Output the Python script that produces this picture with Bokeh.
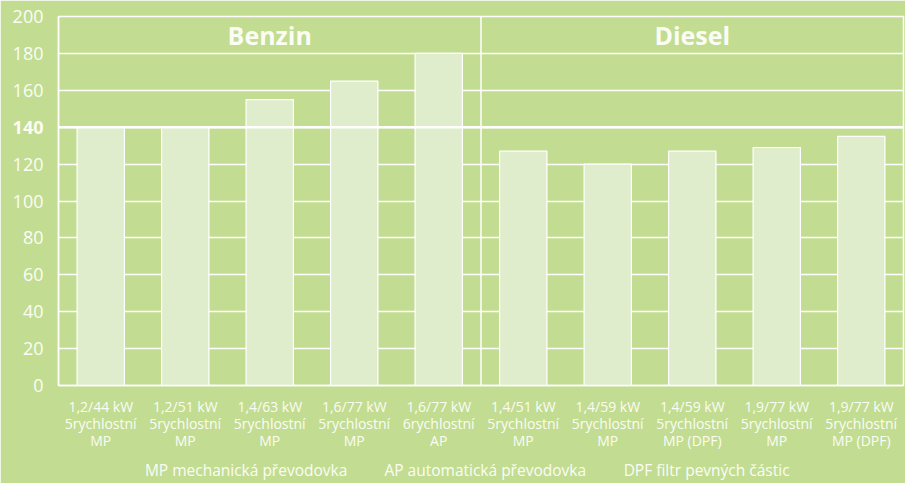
from bokeh.plotting import figure
from bokeh.models import Range1d, FixedTicker, Span, Label, LinearAxis
from bokeh.embed import file_html
from bokeh.resources import INLINE

categories = [
    "1,2/44 kW\n5rychlostní\nMP",
    "1,2/51 kW\n5rychlostní\nMP",
    "1,4/63 kW\n5rychlostní\nMP",
    "1,6/77 kW\n5rychlostní\nMP",
    "1,6/77 kW\n6rychlostní\nAP",
    "1,4/51 kW\n5rychlostní\nMP",
    "1,4/59 kW\n5rychlostní\nMP",
    "1,4/59 kW\n5rychlostní\nMP (DPF)",
    "1,9/77 kW\n5rychlostní\nMP",
    "1,9/77 kW\n5rychlostní\nMP (DPF)",
]
values = [140, 140, 155, 165, 180, 127, 120, 127, 129, 135]
group_names = ["Benzin", "Diesel"]
y_ticks = [0, 20, 40, 60, 80, 100, 120, 140, 160, 180, 200]
highlight = 140
footnotes = ["MP mechanická převodovka", "AP automatická převodovka", "DPF filtr pevných částic"]
footnote_pos = [2.72, 5.55, 8.17]

BG = "#c2dc92"
BAR = "#e0edcd"
TXT = "#fbfdf5"
FONT = "Open Sans"

xs = list(range(1, len(values) + 1))

p = figure(width=905, height=483, output_backend="svg", toolbar_location=None,
           x_range=Range1d(0.5, len(values) + 0.5), y_range=Range1d(0, 200),
           min_border_left=58, min_border_right=2, min_border_top=16, min_border_bottom=98)
p.background_fill_color = BG
p.border_fill_color = BG
p.outline_line_color = "white"
p.outline_line_width = 1.5

p.vbar(x=xs, top=values, width=0.56, fill_color=BAR, line_color="white", line_width=1.2)

# grid
p.xgrid.visible = False
p.ygrid.ticker = FixedTicker(ticks=y_ticks)
p.ygrid.grid_line_color = "white"
p.ygrid.grid_line_width = 1.5
p.ygrid.grid_line_alpha = 1.0

# inner y axis: only the highlighted value, bold
ya = p.yaxis[0]
ya.ticker = FixedTicker(ticks=[highlight])
ya.major_tick_line_color = None
ya.minor_tick_line_color = None
ya.axis_line_color = "white"
ya.axis_line_width = 1.5
ya.major_label_standoff = 9
ya.major_label_text_font = FONT
ya.major_label_text_font_style = "bold"
ya.major_label_text_font_size = "18px"
ya.major_label_text_color = TXT

# outer y axis: other values, shifted onto the same column
ya2 = LinearAxis(ticker=FixedTicker(ticks=[t for t in y_ticks if t != highlight]))
ya2.major_tick_line_color = None
ya2.minor_tick_line_color = None
ya2.axis_line_color = None
ya2.major_label_standoff = -40
ya2.major_label_text_font = FONT
ya2.major_label_text_font_size = "18px"
ya2.major_label_text_color = TXT
p.add_layout(ya2, "left")

# x axis
p.xaxis.ticker = FixedTicker(ticks=xs)
p.xaxis.major_label_overrides = {x: c for x, c in zip(xs, categories)}
p.xaxis.major_tick_line_color = None
p.xaxis.minor_tick_line_color = None
p.xaxis.axis_line_color = "white"
p.xaxis.axis_line_width = 1.5
p.xaxis.major_label_standoff = 5
p.xaxis.major_label_text_font = FONT
p.xaxis.major_label_text_font_size = "14px"
p.xaxis.major_label_text_color = TXT
p.xaxis.major_label_text_line_height = 0.9

# footnote axis below
xa2 = LinearAxis(ticker=FixedTicker(ticks=footnote_pos),
                 major_label_overrides={x: t for x, t in zip(footnote_pos, footnotes)})
xa2.major_tick_line_color = None
xa2.minor_tick_line_color = None
xa2.axis_line_color = None
xa2.major_label_standoff = 0
xa2.major_label_text_font = FONT
xa2.major_label_text_font_size = "15.5px"
xa2.major_label_text_color = TXT
p.add_layout(xa2, "below")

# highlighted 140 line on top of bars
p.add_layout(Span(location=highlight, dimension="width", line_color="white", line_width=2.5))
# group divider
p.add_layout(Span(location=5.5, dimension="height", line_color="white", line_width=1.5))

for name, cx in zip(group_names, [3, 8]):
    p.add_layout(Label(x=cx, y=190, text=name, text_align="center", text_baseline="middle",
                       text_font=FONT, text_font_style="bold", text_font_size="25px",
                       text_color=TXT))

open("out.html", "w").write(file_html(p, INLINE))
